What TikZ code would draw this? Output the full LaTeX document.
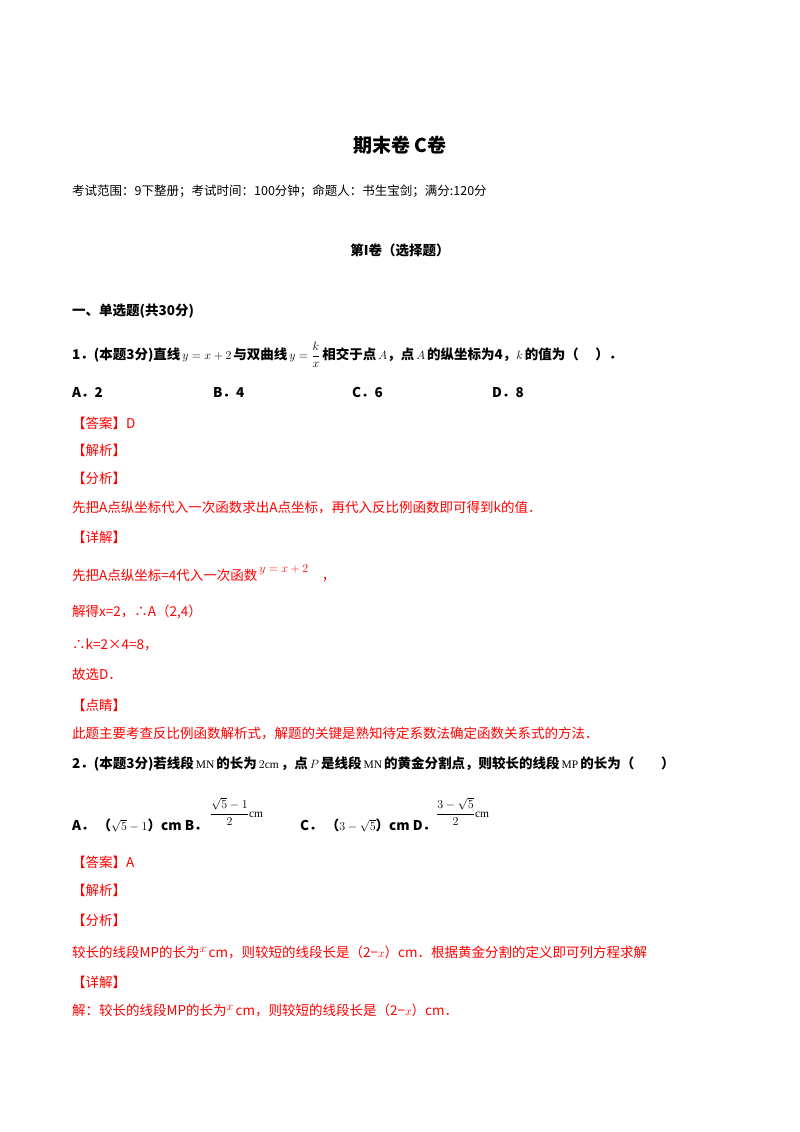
\documentclass[tikz,border=0pt]{standalone}
\usepackage{amsmath}
\usepackage{fontspec}
\setmainfont{Liberation Serif}
\newfontfamily\cjk{Noto Sans CJK SC}
\definecolor{ans}{RGB}{255,0,0}
\newcommand{\mf}{\normalfont\fontsize{11.5}{13}\selectfont}
\begin{document}
\begin{tikzpicture}[x=1pt,y=-1pt,
  t/.style={anchor=base west,inner sep=0pt,font=\cjk\fontsize{13.5}{15}\selectfont},
  tb/.style={t,font=\cjk\bfseries\fontsize{13.5}{15}\selectfont},
  r/.style={t,text=ans}]
\useasboundingbox[fill=white] (0,0) rectangle (800,1132);
\node[anchor=base,inner sep=0pt,font=\cjk\bfseries\fontsize{19}{22}\selectfont] (title) at (400,152) {期末卷\ C卷};
\node[t,font=\cjk\fontsize{12.5}{14}\selectfont] (info) at (72,195) {考试范围：9下整册；考试时间：100分钟；命题人：书生宝剑；满分:120分};
\node[anchor=base,inner sep=0pt,font=\cjk\bfseries\fontsize{13.5}{15}\selectfont] (part) at (400,255) {第I卷（选择题）};
\node[tb] (sec) at (72,315) {一、单选题(共30分)};
\node[tb] (q1) at (72,359) {1．(本题3分)直线{\mf$\,y=x+2\,$}与双曲线{\mf$\,y=\dfrac{k}{x}\,$}相交于点{\mf$\,A$}，点{\mf$\,A\,$}的纵坐标为4，{\mf$k\,$}的值为（\quad\ ）．};
\node[tb] (a1) at (72,397) {A．2};
\node[tb] (b1) at (213,397) {B．4};
\node[tb] (c1) at (352,397) {C．6};
\node[tb] (d1) at (492,397) {D．8};
\node[r] (ans1) at (72,428) {【答案】D};
\node[r] (jx1) at (72,455) {【解析】};
\node[r] (fx1) at (72,483) {【分析】};
\node[r] (fx1t) at (72,512) {先把A点纵坐标代入一次函数求出A点坐标，再代入反比例函数即可得到k的值．};
\node[r] (xj1) at (72,542) {【详解】};
\node[r] (xj1t) at (72,580) {先把A点纵坐标=4代入一次函数\raisebox{8pt}{\mf$\,y=x+2$}\quad ，};
\node[r] (l1) at (72,616) {解得x=2，∴A（2,4）};
\node[r] (l2) at (72,649) {∴k=2×4=8，};
\node[r] (l3) at (72,679) {故选D．};
\node[r] (dj1) at (72,710) {【点睛】};
\node[r] (dj1t) at (72,738) {此题主要考查反比例函数解析式，解题的关键是熟知待定系数法确定函数关系式的方法．};
\node[tb] (q2) at (72,768) {2．(本题3分)若线段{\mf$\,\mathrm{MN}\,$}的长为{\mf$\,2\mathrm{cm}\,$}，点{\mf$\,P\,$}是线段{\mf$\,\mathrm{MN}\,$}的黄金分割点，则较长的线段{\mf$\,\mathrm{MP}\,$}的长为（\qquad ）};
\node[tb] (a2) at (72,830) {A．\ （{\mf$\sqrt5-1$}）cm B．};
\node[anchor=base west,inner sep=0pt,font=\mf] (b2) at (210,817) {$\dfrac{\sqrt5-1}{2}\mathrm{cm}$};
\node[tb] (c2) at (300,830) {C．\ （{\mf$3-\sqrt5$}）cm D．};
\node[anchor=base west,inner sep=0pt,font=\mf] (d2) at (436,817) {$\dfrac{3-\sqrt5}{2}\mathrm{cm}$};
\node[r] (ans2) at (72,867) {【答案】A};
\node[r] (jx2) at (72,895) {【解析】};
\node[r] (fx2) at (72,925) {【分析】};
\node[r] (fx2t) at (72,957) {较长的线段MP的长为{\mf\raisebox{5pt}{$x$}}\,cm，则较短的线段长是（2−{\mf$x$}）cm．根据黄金分割的定义即可列方程求解};
\node[r] (xj2) at (72,987) {【详解】};
\node[r] (xj2t) at (72,1015) {解：较长的线段MP的长为{\mf\raisebox{5pt}{$x$}}\,cm，则较短的线段长是（2−{\mf$x$}）cm．};
\end{tikzpicture}
\end{document}
